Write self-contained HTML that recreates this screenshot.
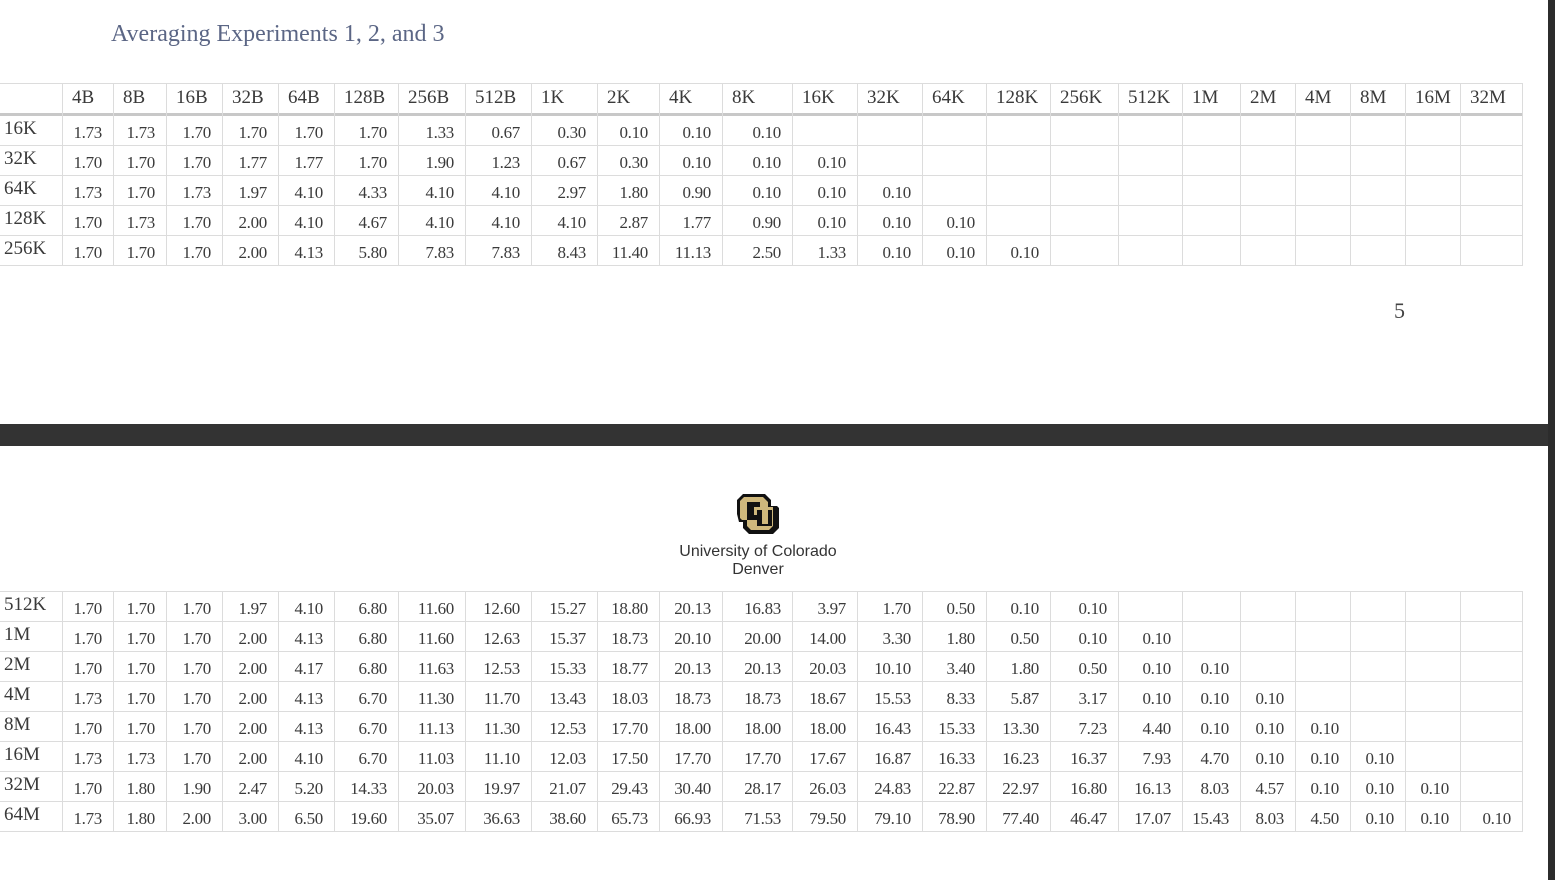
<!DOCTYPE html>
<html><head><meta charset="utf-8">
<style>
html,body{margin:0;padding:0;background:#fff;}
body{width:1555px;height:880px;position:relative;overflow:hidden;font-family:"Liberation Serif",serif;color:#3a3a3a;}
.c{position:absolute;white-space:nowrap;}
.v{font-size:17px;text-align:right;letter-spacing:-0.3px;}
.h{font-size:19px;}
.rl{font-size:19px;}
.hl{position:absolute;height:1px;background:#dcdcdc;}
.vl{position:absolute;width:1px;background:#dcdcdc;}
</style></head>
<body>
<div class="c" style="left:111px;top:21px;font-size:24px;color:#5b6685;">Averaging Experiments 1, 2, and 3</div>
<div class="c" style="left:1394px;top:298px;font-size:22px;color:#444;">5</div>
<div style="position:absolute;left:0;top:424px;width:1555px;height:22px;background:#333;"></div>
<div style="position:absolute;left:1548px;top:0;width:7px;height:880px;background:#2c2c2c;"></div>
<svg style="position:absolute;left:735px;top:492px" width="46" height="44" viewBox="0 0 46 44">
<path d="M8 2h22l6 6v6h6l2 2v20l-6 6H14l-6-6v-6H4L2 22V8z" fill="#111"/>
<path d="M9 5h19l5 5v5h5v19l-4 4H16l-4-4v-6H7l-2-2V9z" fill="#cfb87c"/>
<path d="M12 10h13v5h-6v8h6v5H12zM22 18h5v14h6V18h4v16H22z" fill="#111"/>
</svg>
<div class="c" style="left:658px;top:543px;width:200px;text-align:center;font-family:'Liberation Sans',sans-serif;font-size:16px;line-height:18px;color:#333;">University of Colorado<br>Denver</div>
<div id="tables"></div>
<script>
const colHeaders=["4B","8B","16B","32B","64B","128B","256B","512B","1K","2K","4K","8K","16K","32K","64K","128K","256K","512K","1M","2M","4M","8M","16M","32M"];
const topRowLabels=["16K","32K","64K","128K","256K"];
const topValues=[
["1.73","1.73","1.70","1.70","1.70","1.70","1.33","0.67","0.30","0.10","0.10","0.10"],
["1.70","1.70","1.70","1.77","1.77","1.70","1.90","1.23","0.67","0.30","0.10","0.10","0.10"],
["1.73","1.70","1.73","1.97","4.10","4.33","4.10","4.10","2.97","1.80","0.90","0.10","0.10","0.10"],
["1.70","1.73","1.70","2.00","4.10","4.67","4.10","4.10","4.10","2.87","1.77","0.90","0.10","0.10","0.10"],
["1.70","1.70","1.70","2.00","4.13","5.80","7.83","7.83","8.43","11.40","11.13","2.50","1.33","0.10","0.10","0.10"]];
const bottomRowLabels=["512K","1M","2M","4M","8M","16M","32M","64M"];
const bottomValues=[
["1.70","1.70","1.70","1.97","4.10","6.80","11.60","12.60","15.27","18.80","20.13","16.83","3.97","1.70","0.50","0.10","0.10"],
["1.70","1.70","1.70","2.00","4.13","6.80","11.60","12.63","15.37","18.73","20.10","20.00","14.00","3.30","1.80","0.50","0.10","0.10"],
["1.70","1.70","1.70","2.00","4.17","6.80","11.63","12.53","15.33","18.77","20.13","20.13","20.03","10.10","3.40","1.80","0.50","0.10","0.10"],
["1.73","1.70","1.70","2.00","4.13","6.70","11.30","11.70","13.43","18.03","18.73","18.73","18.67","15.53","8.33","5.87","3.17","0.10","0.10","0.10"],
["1.70","1.70","1.70","2.00","4.13","6.70","11.13","11.30","12.53","17.70","18.00","18.00","18.00","16.43","15.33","13.30","7.23","4.40","0.10","0.10","0.10"],
["1.73","1.73","1.70","2.00","4.10","6.70","11.03","11.10","12.03","17.50","17.70","17.70","17.67","16.87","16.33","16.23","16.37","7.93","4.70","0.10","0.10","0.10"],
["1.70","1.80","1.90","2.47","5.20","14.33","20.03","19.97","21.07","29.43","30.40","28.17","26.03","24.83","22.87","22.97","16.80","16.13","8.03","4.57","0.10","0.10","0.10"],
["1.73","1.80","2.00","3.00","6.50","19.60","35.07","36.63","38.60","65.73","66.93","71.53","79.50","79.10","78.90","77.40","46.47","17.07","15.43","8.03","4.50","0.10","0.10","0.10"]];
const colEdges=[62,113,166,222,278,334,398,465,531,597,659,722,792,857,922,986,1050,1118,1182,1240,1295,1350,1405,1460,1522];
const root=document.getElementById('tables');
function add(cls,style,text){const d=document.createElement('div');d.className=cls;d.style.cssText=style;if(text!==undefined)d.textContent=text;root.appendChild(d);return d;}
function build(y0,header,labels,values,prefix){
  const rowH=30;let y=y0;
  if(header){
    for(let i=0;i<colHeaders.length;i++){
      const d=add('c h',`left:${colEdges[i]+10}px;top:${y0+3}px;`,colHeaders[i]);
      
      
    }
    const t=add('hl',`left:0;top:${y0-1}px;width:1522px;`);
    
    const b=add('hl',`left:0;top:${y0+29}px;width:1522px;height:3px;background:#c8c8c8;`);
    
    y=y0+32;
  } else {
    const t=add('hl',`left:0;top:${y0-1}px;width:1522px;`);
    
  }
  const bodyTop=y;
  for(let r=0;r<labels.length;r++){
    const ry=bodyTop+r*rowH;
    const l=add('c rl',`left:4px;top:${ry+2}px;`,labels[r]);
    
    
    for(let c=0;c<values[r].length;c++){
      const w=colEdges[c+1]-colEdges[c];
      const v=add('c v',`left:${colEdges[c]}px;width:${w-11}px;top:${ry+7}px;`,values[r][c]);
      
      
    }
    const line=add('hl',`left:0;top:${ry+rowH-1}px;width:1522px;`);
    
    
  }
  const top=y0-1,bot=bodyTop+labels.length*rowH;
  for(let i=0;i<colEdges.length;i++){
    const vl=add('vl',`left:${colEdges[i]}px;top:${top}px;height:${bot-top}px;`);
    
    
  }
}
build(84,true,topRowLabels,topValues,'top');
build(592,false,bottomRowLabels,bottomValues,'bottom');
</script>
</body></html>
